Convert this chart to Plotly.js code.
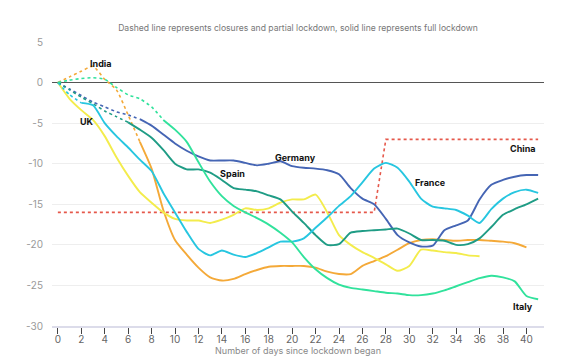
<!DOCTYPE html>
<html>
<head>
<meta charset="utf-8">
<script src="https://cdn.plot.ly/plotly-3.0.1.min.js"></script>
<style>html,body{margin:0;padding:0;background:#fff;}#chart{width:574px;height:364px;}</style>
</head>
<body>
<div id="chart"></div>
<script>
// ---- Data ----
const chinaDays = [0,1,2,3,4,5,6,7,8,9,10,11,12,13,14,15,16,17,18,19,20,21,22,23,24,25,26,27,28,29,30,31,32,33,34,35,36,37,38,39,40,41];
const chinaVals = [-16,-16,-16,-16,-16,-16,-16,-16,-16,-16,-16,-16,-16,-16,-16,-16,-16,-16,-16,-16,-16,-16,-16,-16,-16,-16,-16,-16,-7,-7,-7,-7,-7,-7,-7,-7,-7,-7,-7,-7,-7,-7];

const indiaDays = [0,1,2,3,4,5,6,7,8,9,10,11,12,13,14,15,16,17,18,19,20,21,22,23,24,25,26,27,28,29,30,31,32,33,34,35,36,37,38,39,40];
const indiaVals = [0,0.7,1.4,2.0,0.4,-0.9,-4.0,-7.3,-10.6,-15.7,-19.4,-21.2,-22.8,-24.0,-24.4,-24.2,-23.6,-23.1,-22.7,-22.6,-22.6,-22.6,-22.8,-23.3,-23.6,-23.6,-22.6,-22.0,-21.4,-20.6,-19.8,-19.4,-19.3,-19.4,-19.5,-19.4,-19.4,-19.5,-19.6,-19.8,-20.3];
const indiaFullFrom = 7;

const ukDays = [0,1,2,3,4,5,6,7,8,9,10,11,12,13,14,15,16,17,18,19,20,21,22,23,24,25,26,27,28,29,30,31,32,33,34,35,36];
const ukVals = [0,-2.0,-3.4,-4.6,-6.6,-9.2,-11.5,-13.5,-14.8,-16.0,-16.8,-17.0,-17.0,-17.3,-16.9,-16.3,-15.5,-15.7,-15.5,-14.8,-14.4,-14.4,-13.8,-16.0,-18.8,-20.0,-20.9,-21.6,-22.4,-23.2,-22.6,-20.6,-20.7,-20.9,-21.0,-21.3,-21.4];
const ukFullFrom = 0;

const franceDays = [0,1,2,3,4,5,6,7,8,9,10,11,12,13,14,15,16,17,18,19,20,21,22,23,24,25,26,27,28,29,30,31,32,33,34,35,36,37,38,39,40,41];
const franceVals = [0,-1.5,-2.5,-2.8,-5.0,-6.6,-8.0,-9.5,-10.9,-13.6,-16.0,-18.4,-20.5,-21.3,-20.7,-21.2,-21.5,-21.0,-20.3,-19.6,-19.6,-19.2,-17.9,-16.6,-15.2,-14.0,-12.3,-10.6,-9.9,-10.5,-12.2,-14.3,-15.3,-15.5,-15.7,-16.4,-17.3,-15.6,-14.3,-13.5,-13.2,-13.6];
const franceFullFrom = 2;

const germanyDays = [0,1,2,3,4,5,6,7,8,9,10,11,12,13,14,15,16,17,18,19,20,21,22,23,24,25,26,27,28,29,30,31,32,33,34,35,36,37,38,39,40,41];
const germanyVals = [0,-0.8,-1.6,-2.4,-3.0,-3.6,-4.0,-4.5,-5.3,-6.4,-7.5,-8.4,-9.1,-9.6,-9.6,-9.6,-9.9,-10.2,-10.0,-9.7,-10.3,-10.5,-10.6,-10.8,-11.3,-13.0,-14.3,-15.0,-16.8,-18.8,-19.7,-20.2,-20.1,-18.2,-17.6,-17.0,-14.4,-12.6,-12.0,-11.6,-11.4,-11.4];
const germanyFullFrom = 7;

const spainDays = [0,1,2,3,4,5,6,7,8,9,10,11,12,13,14,15,16,17,18,19,20,21,22,23,24,25,26,27,28,29,30,31,32,33,34,35,36,37,38,39,40,41];
const spainVals = [0,-0.9,-1.8,-2.6,-3.5,-4.2,-4.9,-5.8,-6.8,-8.3,-10.0,-10.7,-10.7,-11.1,-12.0,-13.0,-13.2,-13.4,-13.9,-14.4,-15.9,-17.3,-18.8,-20.0,-19.9,-18.5,-18.3,-18.2,-18.1,-18.0,-18.6,-19.4,-19.4,-19.5,-20.0,-19.9,-19.2,-17.8,-16.3,-15.6,-15.0,-14.3];
const spainFullFrom = 6;

const italyDays = [0,1,2,3,4,5,6,7,8,9,10,11,12,13,14,15,16,17,18,19,20,21,22,23,24,25,26,27,28,29,30,31,32,33,34,35,36,37,38,39,40,41];
const italyVals = [0,0.3,0.5,0.6,0.4,-0.6,-1.5,-2.0,-3.0,-4.6,-5.8,-7.3,-9.8,-12.2,-14.0,-15.2,-16.0,-16.7,-17.5,-18.5,-19.7,-21.5,-23.0,-24.1,-24.9,-25.3,-25.5,-25.7,-25.9,-26.0,-26.2,-26.2,-26.0,-25.6,-25.1,-24.6,-24.1,-23.8,-24.0,-24.5,-26.3,-26.7];
const italyFullFrom = 9;

const xTickVals = [0,2,4,6,8,10,12,14,16,18,20,22,24,26,28,30,32,34,36,38,40];
const yTickVals = [5,0,-5,-10,-15,-20,-25,-30];
const yTickText = ["5","0","-5","-10","-15","-20","-25","-30"];

const titleText = "Dashed line represents closures and partial lockdown, solid line represents full lockdown";
const xTitleText = "Number of days since lockdown began";

// ---- Build traces ----
const FONT = "Inter, 'Open Sans', sans-serif";
function segment(days, vals, lo, hi) {
  const x = [], y = [];
  for (let i = 0; i < days.length; i++) {
    if (days[i] >= lo && days[i] <= hi) { x.push(days[i]); y.push(vals[i]); }
  }
  return {x, y};
}
const traces = [];
function addCountry(name, days, vals, fullFrom, color) {
  const last = days[days.length - 1];
  if (fullFrom > days[0]) {
    const d = segment(days, vals, days[0], fullFrom);
    traces.push({x: d.x, y: d.y, mode: 'lines', name: name + ' partial', hoverinfo: 'skip',
      line: {color: color, width: 1.6, dash: 'dot', shape: 'spline', smoothing: 0.6}});
  }
  const s = segment(days, vals, fullFrom, last);
  traces.push({x: s.x, y: s.y, mode: 'lines', name: name, hoverinfo: 'skip',
    line: {color: color, width: 1.9, shape: 'spline', smoothing: 0.6}});
}
traces.push({x: chinaDays, y: chinaVals, mode: 'lines', name: 'China', hoverinfo: 'skip',
  line: {color: '#e5584b', width: 1.6, dash: 'dot', shape: 'linear'}});
addCountry('India', indiaDays, indiaVals, indiaFullFrom, '#f4a938');
addCountry('UK', ukDays, ukVals, ukFullFrom, '#f3ec4c');
addCountry('Germany', germanyDays, germanyVals, germanyFullFrom, '#4565b4');
addCountry('Spain', spainDays, spainVals, spainFullFrom, '#1f9c85');
addCountry('France', franceDays, franceVals, franceFullFrom, '#27c6e0');
addCountry('Italy', italyDays, italyVals, italyFullFrom, '#31e29c');

const labelNames = ['India','UK','Spain','Germany','France','China','Italy'];
const labelX = [3.6, 2.5, 14.9, 20.3, 31.8, 39.7, 39.7];
const labelY = [2.4, -4.8, -11.2, -9.2, -12.3, -8.1, -27.6];
const annotations = labelNames.map((t, i) => ({
  x: labelX[i], y: labelY[i], xref: 'x', yref: 'y', text: '<b>' + t + '</b>', showarrow: false,
  font: {family: FONT, size: 9, color: '#111'}, xanchor: 'center', yanchor: 'middle'
}));

const layout = {
  width: 574, height: 364,
  margin: {l: 52, r: 30, t: 42, b: 38, pad: 0},
  paper_bgcolor: '#fff', plot_bgcolor: '#fff',
  showlegend: false,
  font: {family: FONT, color: '#888', size: 10},
  title: {text: titleText, x: 0.5, xref: 'paper', xanchor: 'center', y: 0.923, yref: 'container', yanchor: 'middle',
    font: {family: FONT, size: 8.6, color: '#777'}},
  xaxis: {
    range: [-0.5, 41.5], tickvals: xTickVals, ticks: 'outside', ticklen: 6, tickcolor: '#444', tickwidth: 1,
    showgrid: false, zeroline: false, showline: true, linecolor: '#dcdcea', linewidth: 2,
    tickfont: {family: FONT, size: 10, color: '#666'}, ticklabelstandoff: -3,
    title: {text: xTitleText, standoff: 0, font: {family: FONT, size: 9, color: '#888'}}
  },
  yaxis: {
    range: [-30, 5], tickvals: yTickVals, ticktext: yTickText, ticks: '', showgrid: true, gridcolor: '#eeeeee', gridwidth: 1,
    zeroline: true, zerolinecolor: '#555', zerolinewidth: 1.5, showline: false,
    tickfont: {family: FONT, size: 10, color: '#999'}, ticklabelstandoff: 8
  },
  annotations: annotations
};

Plotly.newPlot('chart', traces, layout, {displayModeBar: false, staticPlot: true});
</script>
</body>
</html>
